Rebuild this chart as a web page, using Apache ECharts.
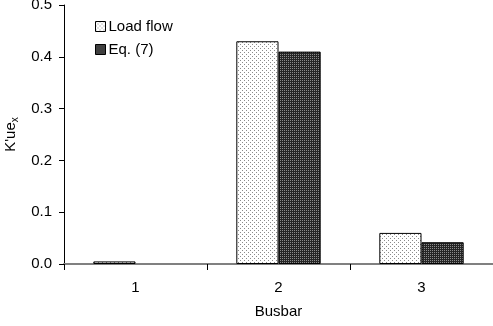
<!DOCTYPE html>
<html>
<head>
<meta charset="utf-8">
<script src="https://cdn.jsdelivr.net/npm/echarts@6/dist/echarts.min.js"></script>
<style>
  html, body { margin: 0; padding: 0; background: #fff; }
  #chart { width: 493px; height: 326px; }
</style>
</head>
<body>
<div id="chart"></div>
<script>
const categories = ['1', '2', '3'];
const loadFlow = [0.005, 0.43, 0.06];
const eq7 = [0, 0.41, 0.042];
const yTicks = ['0.0', '0.1', '0.2', '0.3', '0.4', '0.5'];

// small repeating fills that imitate the printed dot patterns
function makePattern(bg, dot, cells) {
    const c = document.createElement('canvas');
    c.width = 4; c.height = 4;
    const ctx = c.getContext('2d');
    ctx.fillStyle = bg;
    ctx.fillRect(0, 0, 4, 4);
    ctx.fillStyle = dot;
    cells.forEach(p => ctx.fillRect(p[0], p[1], 1, 1));
    return c;
}
const lightFill = makePattern('#ffffff', '#8a8a8a', [[0, 0], [2, 2]]);
const darkFill = makePattern('#262626', '#8c8c8c', [[0, 0], [2, 0], [0, 2], [2, 2]]);

const chart = echarts.init(document.getElementById('chart'));
const font = 'Liberation Sans, Arial, sans-serif';

chart.setOption({
    animation: false,
    textStyle: { fontFamily: font },
    grid: { left: 64, right: 0, top: 5, bottom: 62, containLabel: false, outerBoundsMode: 'none' },
    legend: {
        orient: 'vertical',
        left: 95,
        top: 19,
        padding: 0,
        icon: 'rect',
        itemWidth: 10,
        itemHeight: 10,
        itemGap: 8,
        textStyle: { fontSize: 15, color: '#000', fontFamily: font, padding: [0, 0, 0, -2] },
        data: [
            { name: 'Load flow', itemStyle: { color: { image: lightFill, repeat: 'repeat' }, borderColor: '#000', borderWidth: 1 } },
            { name: 'Eq. (7)', itemStyle: { color: { image: darkFill, repeat: 'repeat' }, borderColor: '#000', borderWidth: 1 } }
        ]
    },
    xAxis: {
        type: 'category',
        data: categories,
        name: 'Busbar',
        nameLocation: 'middle',
        nameGap: 40,
        nameTextStyle: { fontSize: 15, color: '#000' },
        axisLine: { lineStyle: { color: '#808080', width: 2 } },
        axisTick: { show: true, length: 6, lineStyle: { color: '#000' } },
        axisLabel: { fontSize: 15, color: '#000', margin: 16 }
    },
    yAxis: {
        type: 'value',
        min: 0,
        max: 0.5,
        interval: 0.1,
        name: "{a|K'ue}{b|x}",
        nameLocation: 'middle',
        nameGap: 44,
        nameRotate: 90,
        nameTextStyle: {
            rich: {
                a: { fontSize: 15, color: '#000', fontFamily: font },
                b: { fontSize: 10, color: '#000', fontFamily: font, verticalAlign: 'bottom', padding: [8, 0, 0, 0] }
            }
        },
        axisLine: { show: true, lineStyle: { color: '#000', width: 1 } },
        axisTick: { show: true, length: 5, lineStyle: { color: '#000' } },
        splitLine: { show: false },
        axisLabel: {
            fontSize: 15,
            color: '#000',
            margin: 12,
            formatter: (v) => yTicks[Math.round(v * 10)]
        }
    },
    series: [
        {
            name: 'Load flow',
            type: 'bar',
            data: loadFlow,
            barGap: '0%',
            barCategoryGap: '41%',
            itemStyle: { color: { image: lightFill, repeat: 'repeat' }, borderColor: '#000', borderWidth: 1 }
        },
        {
            name: 'Eq. (7)',
            type: 'bar',
            // a zero-height bar would leave a stray outline on the axis
            data: eq7.map(v => (v === 0 ? { value: v, itemStyle: { borderWidth: 0 } } : v)),
            itemStyle: { color: { image: darkFill, repeat: 'repeat' }, borderColor: '#000', borderWidth: 1 }
        }
    ]
});
</script>
</body>
</html>
